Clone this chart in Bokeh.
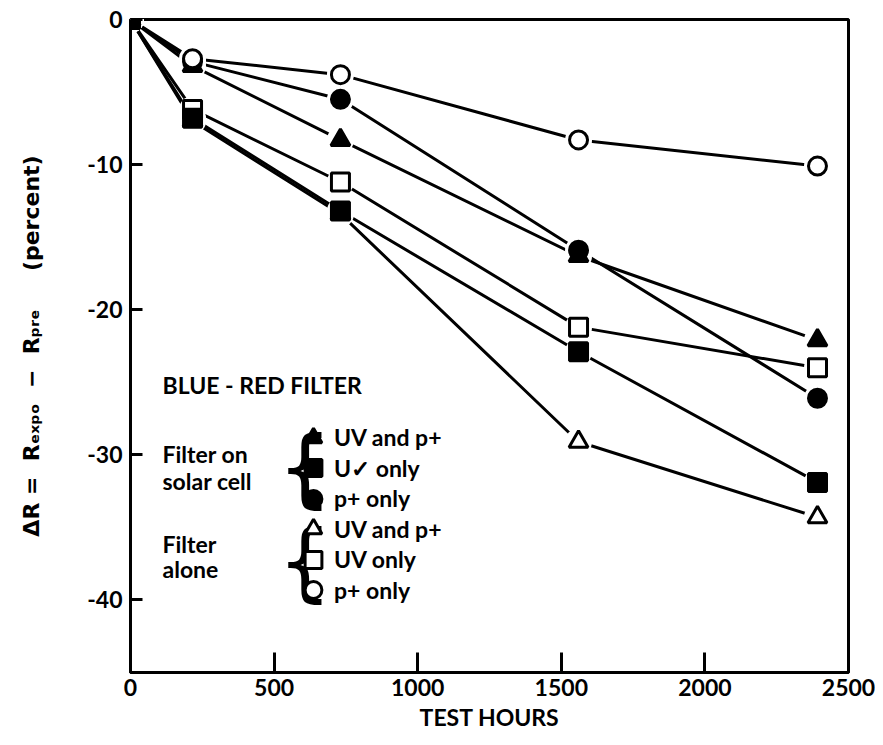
from bokeh.plotting import figure
from bokeh.models import FixedTicker, Label, Legend, LegendItem, Range1d
from bokeh.embed import file_html
from bokeh.resources import INLINE

# ---- data ----
hours = [0, 216, 731, 1560, 2392]
cell_uv_p = [0, -3.2, -8.3, -16.3, -22.1]    # filter on solar cell, UV and p+ (filled triangle)
cell_uv = [0, -6.8, -13.2, -22.9, -31.9]     # filter on solar cell, UV only (filled square)
cell_p = [0, -2.9, -5.5, -15.9, -26.1]       # filter on solar cell, p+ only (filled circle)
alone_uv_p = [0, -7.0, -13.4, -29.1, -34.3]  # filter alone, UV and p+ (open triangle)
alone_uv = [0, -6.2, -11.2, -21.2, -24.0]    # filter alone, UV only (open square)
alone_p = [0, -2.7, -3.8, -8.3, -10.1]       # filter alone, p+ only (open circle)

x_ticks = [0, 500, 1000, 1500, 2000, 2500]
y_ticks = [-40, -30, -20, -10, 0]

FONT = "Lato"

p = figure(width=875, height=737, output_backend="svg", toolbar_location=None,
           x_range=Range1d(0, 2500), y_range=Range1d(-45, 0),
           min_border_left=130, min_border_right=27, min_border_top=19, min_border_bottom=65)
p.grid.visible = False
p.background_fill_color = "white"
p.border_fill_color = "white"
p.outline_line_color = "black"
p.outline_line_width = 3

for ax in (p.xaxis[0], p.yaxis[0]):
    ax.axis_line_width = 3
    ax.major_tick_line_width = 3
    ax.minor_tick_line_color = None
    ax.major_tick_out = 0
    ax.major_label_text_font = FONT
    ax.major_label_text_font_style = "bold"
    ax.major_label_text_font_size = "23px"
    ax.major_label_text_color = "black"
    ax.axis_label_text_font = FONT
    ax.axis_label_text_font_style = "bold"
    ax.axis_label_text_color = "black"

p.xaxis.ticker = FixedTicker(ticks=x_ticks)
p.xaxis.major_tick_in = 20
p.xaxis.major_label_standoff = 6
p.xaxis.axis_label = "TEST HOURS"
p.xaxis.axis_label_text_font_size = "23px"
p.xaxis.axis_label_standoff = 4

p.yaxis.ticker = FixedTicker(ticks=y_ticks)
p.yaxis.major_tick_in = 12
p.yaxis.major_label_standoff = 8
p.yaxis.major_label_overrides = {t: str(t) for t in y_ticks}
sp = "\u00a0"
p.yaxis.axis_label = ("\u0394R" + sp + "=" + sp * 2 + "R\u2091\u2093\u209a\u2092" + sp * 2 + "\u2212" + sp * 2
                      + "R\u209a\u1d63\u2091" + sp * 5 + "(percent)")
p.yaxis.axis_label_text_font = "DejaVu Sans"
p.yaxis.axis_label_text_font_size = "22px"
p.yaxis.axis_label_standoff = 40

series = [
    (cell_uv_p, "triangle", "black", "UV and p+", 437),
    (cell_p, "circle", "black", "p+ only", 498),
    (alone_p, "circle", "white", "p+ only", 589.5),
    (alone_uv, "square", "white", "UV only", 559),
    (alone_uv_p, "triangle", "white", "UV and p+", 528.5),
    (cell_uv, "square", "black", "U\u2713 only", 467.5),
]

for ys, m, fc, lab, ry in series:
    p.line(hours, ys, line_color="black", line_width=3)
for ys, m, fc, lab, ry in series:
    p.scatter(hours, ys, marker="circle", size=27, fill_color="white", line_color=None)

FRAME_BOTTOM = 672
for ys, m, fc, lab, ry in series:
    r = p.scatter(hours, ys, marker=m, size=18 if m != "triangle" else 19,
                  fill_color=fc, line_color="black", line_width=3)
    lg = Legend(items=[LegendItem(label=lab, renderers=[r])],
                location=(162, FRAME_BOTTOM - (ry + 22.5)), orientation="vertical",
                glyph_width=42, glyph_height=45, spacing=0, label_standoff=0,
                padding=0, margin=0, border_line_color=None, background_fill_alpha=0,
                label_text_font=FONT, label_text_font_style="bold",
                label_text_font_size="23px", label_text_color="black", label_height=20)
    p.add_layout(lg)

def note(text, x, y, size="23px", font=FONT, style="bold"):
    p.add_layout(Label(x=x, y=y, x_units="screen", y_units="screen", text=text,
                       text_font=font, text_font_style=style, text_font_size=size,
                       text_color="black", text_baseline="middle", text_align="left"))

note("BLUE - RED FILTER", 32, 288)
note("Filter on", 32, 219)
note("solar cell", 32, 192)
note("Filter", 32, 129)
note("alone", 32, 104)
note("{", 147, 206, size="86px", font="DejaVu Sans", style="normal")
note("{", 147, 112, size="86px", font="DejaVu Sans", style="normal")

open("out.html", "w").write(file_html(p, INLINE))
